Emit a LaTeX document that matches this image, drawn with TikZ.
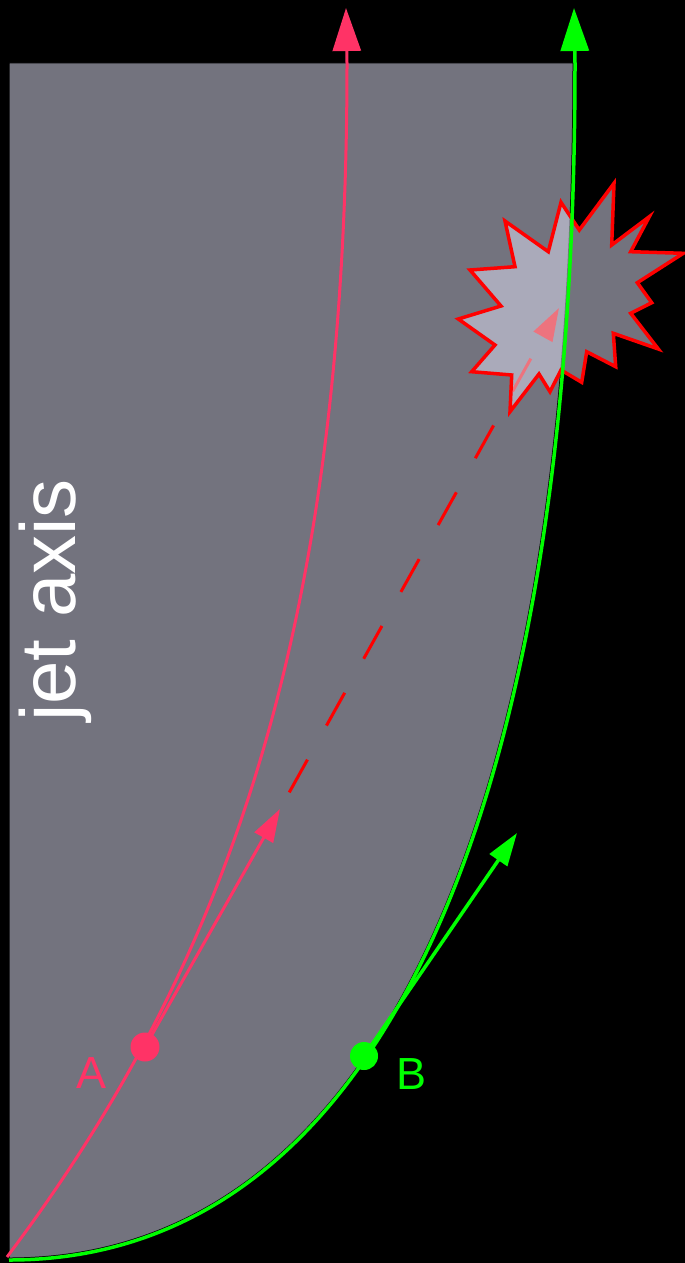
\documentclass[tikz,border=0pt]{standalone}
\usepackage{fontspec}
\setmainfont{Liberation Sans}
\usepackage{tikz}
\usetikzlibrary{arrows.meta}

\definecolor{jetgray}{RGB}{115,115,126}
\definecolor{jetpink}{RGB}{255,51,102}
\definecolor{jetgreen}{RGB}{0,255,0}
\definecolor{burstfill}{RGB}{221,221,242}

\begin{document}
\begin{tikzpicture}[x=1pt,y=-1pt,
  >={Triangle[length=33pt,width=21pt]},
  bigtip/.style={-{Triangle[length=43pt,width=28pt]}},
  jet/.style={fill=jetgray,draw=black,line width=1pt},
  traj/.style={line width=3pt},
  dot/.style={circle,inner sep=0pt,minimum size=29pt},
  lbl/.style={inner sep=0pt,font=\fontsize{45}{50}\selectfont},
  burst/.style={draw=red,line width=3.5pt,fill=burstfill,fill opacity=0.52,
                line join=miter}]
  % --- canvas and jet cone ---
  \fill[black] (0,0) rectangle (685,1263);
  \useasboundingbox (0,0) rectangle (685,1263);
  \path[jet] (9,63) -- (573,63) .. controls (573,828) and (371,1258) .. (9,1258) -- cycle;
  \node[rotate=90,anchor=base west,inner sep=0pt,text=white,
        font=\fontsize{78}{80}\selectfont] (axis) at (75,722) {jet axis};
  % --- key points ---
  \coordinate (po) at (7,1257);
  \coordinate (ptop) at (347,63);
  \coordinate (ptip) at (346,8);
  \coordinate (go) at (9,1260);
  \coordinate (gtop) at (575,63);
  \coordinate (gtip) at (574,8);
  \coordinate (a) at (145,1047);
  \coordinate (b) at (364,1056);
  \coordinate (atip) at (280,809);
  \coordinate (btip) at (517,833);
  \coordinate (hit) at (559,308);
  % --- particle A ---
  \draw[traj,jetpink,bigtip] (po) .. controls (211,985) and (347,660) .. (ptop) -- (ptip);
  \draw[traj,jetpink,->] (a) -- (atip);
  \draw[red,line width=3pt,dash pattern=on 37.5pt off 39pt,dash phase=57.5pt,->]
    (atip) -- (hit);
  % --- particle B ---
  \draw[traj,jetgreen,line width=3.5pt,->] (b) -- (btip);
  % --- collision burst ---
  \draw[burst] (561,202.3) -- (579.3,230) -- (614,183.3) -- (611.7,245)
    -- (649.3,216.7) -- (630.7,251.7) -- (683.3,253.3) -- (637.3,282.7)
    -- (651.7,302.7) -- (630.7,313.3) -- (658.3,349) -- (613.3,333.3)
    -- (615.7,366.7) -- (586.7,351.7) -- (581.7,382.3) -- (561,370)
    -- (550,391.7) -- (539,374) -- (510,411.7) -- (511.7,375)
    -- (471.7,371.7) -- (495,345) -- (458.3,319) -- (501,306)
    -- (470,270) -- (515,266.7) -- (505,221) -- (548.3,251.7) -- cycle;
  \draw[traj,jetgreen,line width=3.5pt,bigtip] (go) .. controls (372,1260) and (575,828) .. (gtop) -- (gtip);
  % --- dots and labels ---
  \node[dot,fill=jetpink] (A) at (a) {};
  \node[dot,fill=jetgreen,minimum size=28pt] (B) at (b) {};
  \node[lbl,text=jetpink] (labA) at (92,1073) {A};
  \node[lbl,text=jetgreen] (labB) at (412,1074) {B};
\end{tikzpicture}
\end{document}
